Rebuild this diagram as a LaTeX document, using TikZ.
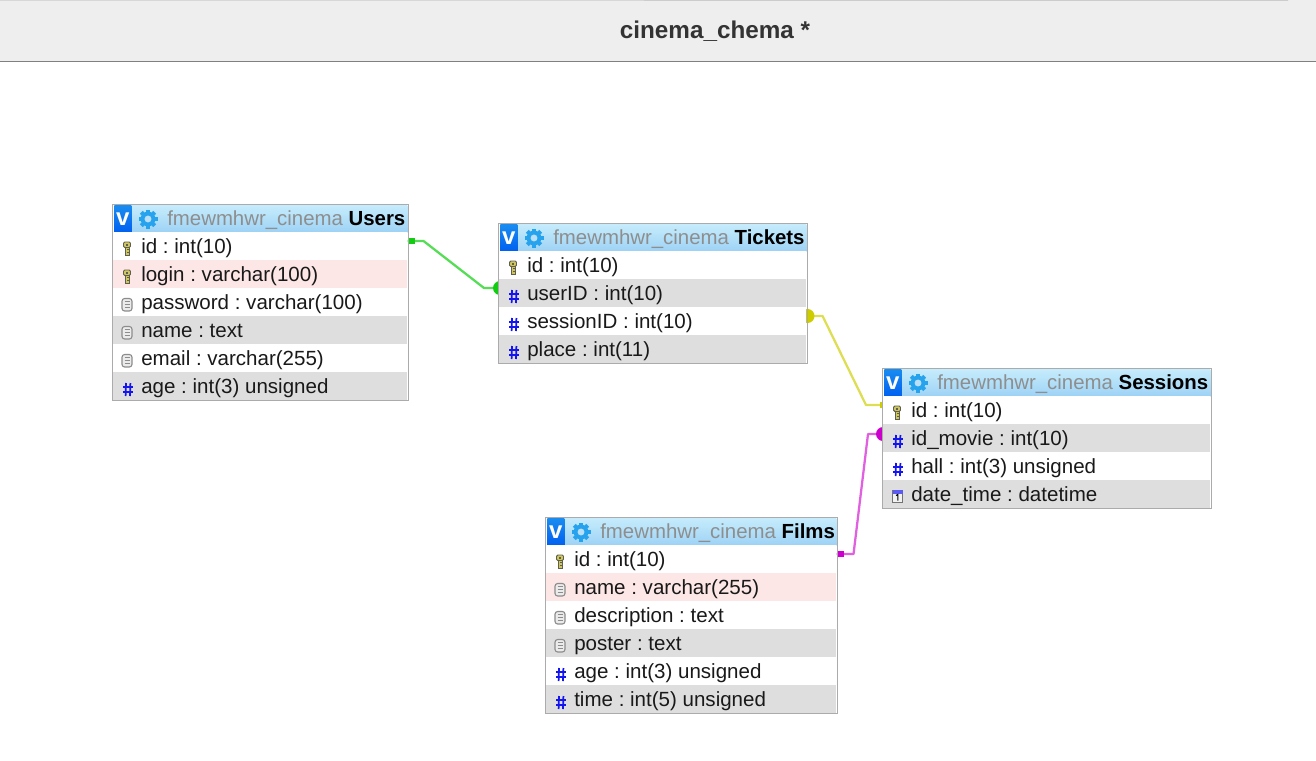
\documentclass[tikz,border=0pt]{standalone}
\usepackage{fontspec}
\setmainfont{Liberation Sans}
\usetikzlibrary{calc,fit,backgrounds}
\frenchspacing
\definecolor{barfill}{HTML}{EEEEEE}
\definecolor{barline}{HTML}{808080}
\definecolor{tableline}{HTML}{ABABAB}
\definecolor{rowgreyfill}{HTML}{DEDEDE}
\definecolor{rowpinkfill}{HTML}{FDE6E6}
\definecolor{headtop}{HTML}{C6ECFC}
\definecolor{headbottom}{HTML}{9DD2F5}
\definecolor{vtop}{HTML}{1A8CF0}
\definecolor{vbottom}{HTML}{0060F0}
\definecolor{gearblue}{HTML}{27A3EE}
\definecolor{schemagrey}{HTML}{8E8E8E}
\definecolor{hashblue}{HTML}{1414EE}
\definecolor{keyfill}{HTML}{CFC65E}
\definecolor{keyline}{HTML}{5F5F50}
\definecolor{greenline}{HTML}{55DD55}
\definecolor{greendot}{HTML}{11CC11}
\definecolor{yellowline}{HTML}{DEDE55}
\definecolor{yellowdot}{HTML}{CCCC00}
\definecolor{magentaline}{HTML}{E060E0}
\definecolor{magentadot}{HTML}{CC00CC}
\tikzset{
	rowplain/.style={rectangle, inner sep=0pt, minimum height=21pt, anchor=west, fill=white},
	rowgrey/.style={rowplain, fill=rowgreyfill},
	rowpink/.style={rowplain, fill=rowpinkfill},
	rowtext/.style={inner sep=0pt, anchor=base west, text=black!90, font=\fontsize{15.4}{18}\selectfont},
	headtext/.style={inner sep=0pt, anchor=base west, text=black, font=\fontsize{15.3}{18}\selectfont},
	headbox/.style={rectangle, inner sep=0pt, minimum height=20.25pt, anchor=north west, top color=headtop, bottom color=headbottom},
	vbox/.style={rectangle, inner sep=0pt, minimum width=12.75pt, minimum height=20.25pt, anchor=north west, top color=vtop, bottom color=vbottom, text=white, font=\fontsize{18}{18}\bfseries\selectfont},
	tablebox/.style={rectangle, draw=tableline, line width=0.75pt, inner sep=0.375pt},
	conn/.style={line width=1.7pt, line join=round}
}
\newcommand{\tablehead}[5]{
	\node[headbox, minimum width=#4*0.75pt-1.5pt] (#1Head) at (#2+1,#3-27) {};
	\node[vbox] (#1V) at (#2+1,#3-27) {v};
	\begin{scope}[shift={(#2+35,#3-13)}]
		\foreach \a in {0,45,...,135}
			\fill[gearblue, rotate=\a] (-2,-9.5) rectangle (2,9.5);
		\fill[gearblue] (0,0) circle (5.5pt);
		\fill[headbottom!70!white] (0,0) circle (2.6pt);
	\end{scope}
	\node[headtext] (#1Title) at (#2+54,#3-7) {\textcolor{schemagrey}{fmewmhwr\_cinema} \textbf{#5}};
}
\newcommand{\iconkey}[1]{
	\begin{scope}[shift={($(#1.west)+(14,2.5)$)}]
		\filldraw[fill=keyfill, draw=keyline, line width=0.7pt, rounded corners=1pt] (-3.5,-6.5) rectangle (3.5,-1);
		\filldraw[fill=keyfill, draw=keyline, line width=0.7pt] (-2,-1) rectangle (2.5,6.5);
		\fill[keyline] (-1,-4.5) rectangle (1,-3);
		\draw[keyline, line width=0.6pt] (0,1) -- (2.5,1) (0,4) -- (2.5,4);
	\end{scope}
}
\newcommand{\icontext}[1]{
	\begin{scope}[shift={($(#1.west)+(14,2.5)$)}]
		\filldraw[fill=black!8, draw=black!45, line width=0.85pt, rounded corners=2pt] (-5,-6) rectangle (5,6.5);
		\foreach \l in {-3,0,3}
			\draw[black!45, line width=0.6pt] (-2.5,\l) -- (2.5,\l);
	\end{scope}
}
\newcommand{\iconhash}[1]{
	\begin{scope}[shift={($(#1.west)+(15,3.5)$)}, hashblue, line width=1.3pt]
		\draw (-2,-6.5) -- (-2.4,6.5) (2.4,-6.5) -- (2,6.5);
		\draw (-5,-2.3) -- (5,-2.3) (-5,2.5) -- (5,2.5);
	\end{scope}
}
\newcommand{\icondate}[1]{
	\begin{scope}[shift={($(#1.west)+(14.5,2)$)}]
		\filldraw[fill=black!5, draw=black!55, line width=0.75pt] (-5,-6) rectangle (5,6.5);
		\fill[hashblue!70!white] (-5,-6) rectangle (5,-2.5);
		\draw[black, line width=0.8pt] (-1.5,-0.5) -- (0.3,-1.5) -- (0.3,4.5);
	\end{scope}
}
\begin{document}
\begin{tikzpicture}[x=0.75pt,y=-0.75pt]
	\useasboundingbox (0,0) rectangle (1316,760);
	\node[rectangle, fill=barfill, inner sep=0pt, minimum width=987pt, minimum height=45.75pt, anchor=north west] (titleBar) at (0,0) {};
	\draw[barline, line width=0.75pt] (titleBar.south west) -- (titleBar.south east);
	\draw[black!20, line width=0.75pt] (titleBar.north west) -- ($(titleBar.north west)+(1288,0.5)$);
	\node[inner sep=0pt, text=black!80, font=\fontsize{18.2}{20}\bfseries\selectfont] (titleText) at (715,31) {cinema\_chema *};

	\tablehead{users}{113}{232}{295}{Users}
	\foreach \rowname/\rowy/\rowstyle/\rowicon/\rowlabel in {
		usersId/246/rowplain/\iconkey/id : int(10),
		usersLogin/274/rowpink/\iconkey/login : varchar(100),
		usersPassword/302/rowplain/\icontext/password : varchar(100),
		usersName/330/rowgrey/\icontext/name : text,
		usersEmail/358/rowplain/\icontext/email : varchar(255),
		usersAge/386/rowgrey/\iconhash/age : int(3) unsigned}
	{
		\node[\rowstyle, minimum width=220.5pt] (\rowname) at (113,\rowy) {};
		\rowicon{\rowname}
		\node[rowtext] (\rowname Text) at (141,\rowy+7) {\rowlabel};
	}
	\node[tablebox, fit=(usersHead)(usersAge)] (usersBox) {};

	\tablehead{tickets}{499}{251}{308}{Tickets}
	\foreach \rowname/\rowy/\rowstyle/\rowicon/\rowlabel in {
		ticketsId/265/rowplain/\iconkey/id : int(10),
		ticketsUser/293/rowgrey/\iconhash/userID : int(10),
		ticketsSession/321/rowplain/\iconhash/sessionID : int(10),
		ticketsPlace/349/rowgrey/\iconhash/place : int(11)}
	{
		\node[\rowstyle, minimum width=230.25pt] (\rowname) at (499,\rowy) {};
		\rowicon{\rowname}
		\node[rowtext] (\rowname Text) at (527,\rowy+7) {\rowlabel};
	}
	\node[tablebox, fit=(ticketsHead)(ticketsPlace)] (ticketsBox) {};

	\tablehead{sessions}{883}{396}{328}{Sessions}
	\foreach \rowname/\rowy/\rowstyle/\rowicon/\rowlabel in {
		sessionsId/410/rowplain/\iconkey/id : int(10),
		sessionsMovie/438/rowgrey/\iconhash/id\_movie : int(10),
		sessionsHall/466/rowplain/\iconhash/hall : int(3) unsigned,
		sessionsDate/494/rowgrey/\icondate/date\_time : datetime}
	{
		\node[\rowstyle, minimum width=245.25pt] (\rowname) at (883,\rowy) {};
		\rowicon{\rowname}
		\node[rowtext] (\rowname Text) at (911,\rowy+7) {\rowlabel};
	}
	\node[tablebox, fit=(sessionsHead)(sessionsDate)] (sessionsBox) {};

	\tablehead{films}{546}{545}{291}{Films}
	\foreach \rowname/\rowy/\rowstyle/\rowicon/\rowlabel in {
		filmsId/559/rowplain/\iconkey/id : int(10),
		filmsName/587/rowpink/\icontext/name : varchar(255),
		filmsDescription/615/rowplain/\icontext/description : text,
		filmsPoster/643/rowgrey/\icontext/poster : text,
		filmsAge/671/rowplain/\iconhash/age : int(3) unsigned,
		filmsTime/699/rowgrey/\iconhash/time : int(5) unsigned}
	{
		\node[\rowstyle, minimum width=217.5pt] (\rowname) at (546,\rowy) {};
		\rowicon{\rowname}
		\node[rowtext] (\rowname Text) at (574,\rowy+7) {\rowlabel};
	}
	\node[tablebox, fit=(filmsHead)(filmsTime)] (filmsBox) {};

	\coordinate (usersOut) at ($(usersId.east)+(0,-5)$);
	\coordinate (ticketsIn) at ($(ticketsUser.west)+(0,-5)$);
	\coordinate (ticketsOut) at ($(ticketsSession.east)+(0,-5)$);
	\coordinate (sessionsIn) at ($(sessionsId.west)+(0,-5)$);
	\coordinate (filmsOut) at ($(filmsId.east)+(0,-5)$);
	\coordinate (sessionsMovieIn) at ($(sessionsMovie.west)+(0,-4)$);
	\begin{scope}[on background layer]
		\draw[conn, greenline] (usersOut) -- ++(16,0) -- ($(ticketsIn)+(-15,0)$) -- (ticketsIn);
		\fill[greendot] ($(usersOut)+(1,-3)$) rectangle ++(6,6);
		\fill[greendot] ($(ticketsIn)+(1,0)$) circle (5.25pt);
		\draw[conn, yellowline] (ticketsOut) -- ++(16,0) -- ($(sessionsIn)+(-17,0)$) -- (sessionsIn);
		\fill[yellowdot] ($(ticketsOut)+(1,0)$) circle (5.25pt);
		\fill[yellowdot] ($(sessionsIn)+(-3,-3)$) rectangle ++(3,6);
		\draw[conn, magentaline] (filmsOut) -- ++(17,0) -- ($(sessionsMovieIn)+(-15,0)$) -- (sessionsMovieIn);
		\fill[magentadot] ($(filmsOut)+(1,-3)$) rectangle ++(6,6);
		\fill[magentadot] (sessionsMovieIn) circle (5.25pt);
	\end{scope}
\end{tikzpicture}
\end{document}
